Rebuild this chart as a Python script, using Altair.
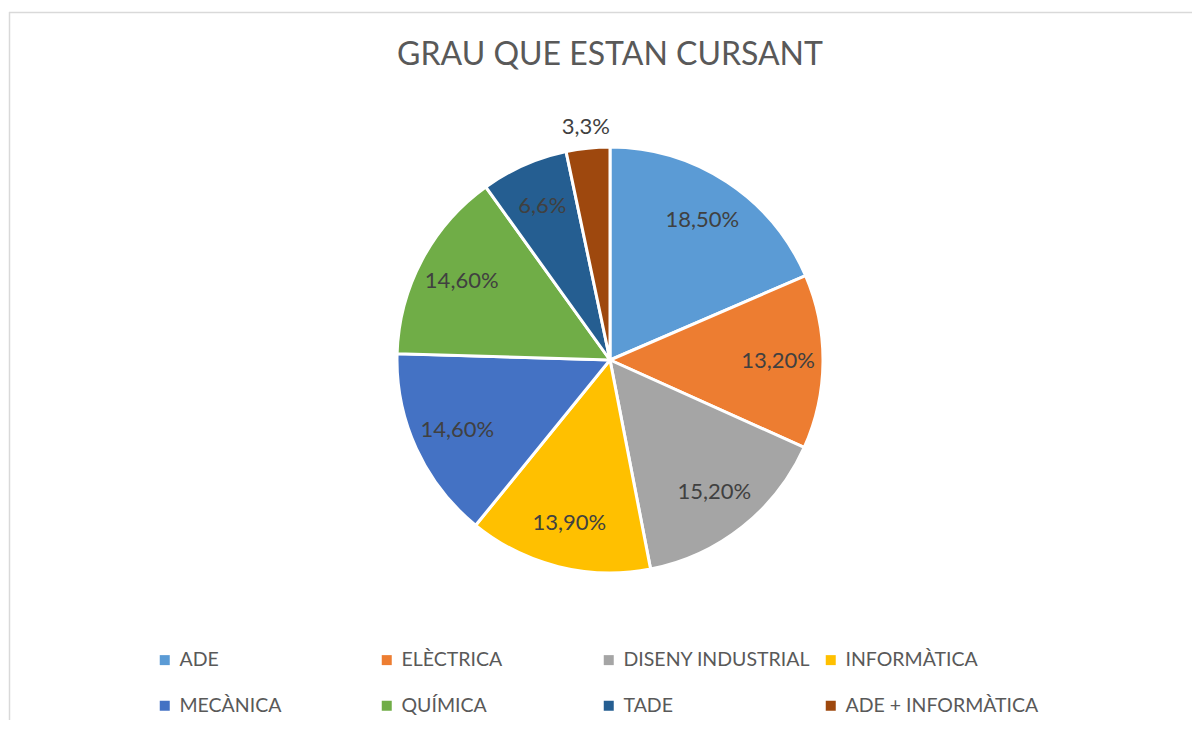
import altair as alt
import pandas as pd

categories = ["ADE", "ELÈCTRICA", "DISENY INDUSTRIAL", "INFORMÀTICA",
              "MECÀNICA", "QUÍMICA", "TADE", "ADE + INFORMÀTICA"]
values = [18.5, 13.2, 15.2, 13.9, 14.6, 14.6, 6.6, 3.3]
labels = ["18,50%", "13,20%", "15,20%", "13,90%", "14,60%", "14,60%", "6,6%", "3,3%"]
outside = [False, False, False, False, False, False, False, True]
colors = ["#5B9BD5", "#ED7D31", "#A5A5A5", "#FFC000",
          "#4472C4", "#70AD47", "#255E91", "#9E480E"]

df = pd.DataFrame({
    "cat": categories,
    "val": values,
    "label": labels,
    "outside": outside,
    "ord": list(range(len(categories))),
})

W, H = 1184, 712
CX, CY, R = 602, 352, 213
FONT = "Lato"

base = alt.Chart(df).encode(
    theta=alt.Theta("val:Q", stack=True),
    order=alt.Order("ord:Q", sort="ascending"),
    x=alt.value(CX),
    y=alt.value(CY),
)

pie = base.mark_arc(outerRadius=R, stroke="white", strokeWidth=3).encode(
    color=alt.Color(
        "cat:N",
        scale=alt.Scale(domain=categories, range=colors),
        sort=categories,
        legend=alt.Legend(
            title=None,
            orient="none",
            legendX=147,
            legendY=642,
            direction="horizontal",
            columns=4,
            gridAlign="all",
            columnPadding=4,
            rowPadding=25,
            symbolType="square",
            symbolSize=100,
            symbolStrokeWidth=0,
            symbolOffset=0,
            labelFont=FONT,
            labelFontSize=19.5,
            labelColor="#595959",
            labelOffset=5,
            labelLimit=400,
        ),
    )
)

inner = base.mark_text(radius=168, font=FONT, fontSize=22, color="#404040").encode(
    text="label:N",
    opacity=alt.condition("datum.outside", alt.value(0), alt.value(1)),
)
outer = base.mark_text(radius=234, font=FONT, fontSize=22, color="#404040").encode(
    text="label:N",
    opacity=alt.condition("datum.outside", alt.value(1), alt.value(0)),
)

title_df = pd.DataFrame({"t": ["GRAU QUE ESTAN CURSANT"]})
title = alt.Chart(title_df).mark_text(
    font=FONT, fontSize=32, color="#595959", baseline="middle", align="center"
).encode(text="t:N", x=alt.value(CX), y=alt.value(47))

frame_df = pd.DataFrame({"a": [0]})
top_line = alt.Chart(frame_df).mark_rule(color="#D9D9D9", strokeWidth=1.5).encode(
    x=alt.value(1), x2=alt.value(W), y=alt.value(4.5)
)
left_line = alt.Chart(frame_df).mark_rule(color="#D9D9D9", strokeWidth=1.5).encode(
    x=alt.value(1.5), y=alt.value(4), y2=alt.value(H)
)

chart = alt.layer(top_line, left_line, pie, inner, outer, title).properties(
    width=W, height=H, padding=0, autosize=alt.AutoSizeParams(type="none"),
    background="white",
).configure_view(stroke=None)

chart.save("out.html", embed_options={"renderer": "svg", "actions": False})
